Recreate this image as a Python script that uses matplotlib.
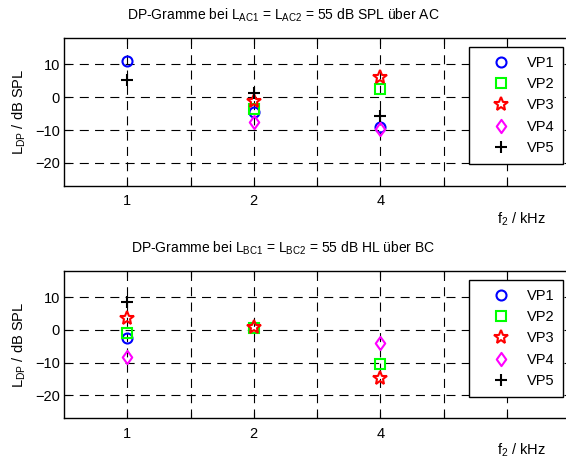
import numpy as np
import matplotlib
matplotlib.use('Agg')
import matplotlib.pyplot as plt
from matplotlib.path import Path

# ─── Data ────────────────────────────────────────────────────────────────────
freq_labels = ['1', '2', '4']          # f2 / kHz
series_names = ['VP1', 'VP2', 'VP3', 'VP4', 'VP5']

nan = np.nan
# AC stimulation, L_AC1 = L_AC2 = 55 dB SPL
ac_vp1 = [11.0, -4.4, -9.0]
ac_vp2 = [nan, -3.7, 2.4]
ac_vp3 = [nan, -1.3, 6.1]
ac_vp4 = [nan, -7.5, -9.7]
ac_vp5 = [5.3, 1.4, -5.7]

# BC stimulation, L_BC1 = L_BC2 = 55 dB HL
bc_vp1 = [-2.5, nan, nan]
bc_vp2 = [-0.8, 0.7, -10.4]
bc_vp3 = [3.6, 1.0, -14.8]
bc_vp4 = [-8.2, nan, -3.9]
bc_vp5 = [8.4, nan, nan]

# ─── Style ───────────────────────────────────────────────────────────────────
plt.rcParams['font.family'] = ['Liberation Sans', 'DejaVu Sans']
plt.rcParams['mathtext.fontset'] = 'custom'
plt.rcParams['mathtext.rm'] = 'Liberation Sans'
plt.rcParams['mathtext.it'] = 'Liberation Sans'
plt.rcParams['mathtext.default'] = 'regular'
plt.rcParams['lines.scale_dashes'] = False

FS = 10

# MATLAB-like diamond (a bit narrower than tall)
diamond = Path([(0, 1), (0.72, 0), (0, -1), (-0.72, 0), (0, 1)],
               [Path.MOVETO, Path.LINETO, Path.LINETO, Path.LINETO,
                Path.CLOSEPOLY])

markers = [
    dict(marker='o', color='#0000ff', ms=7.2),
    dict(marker='s', color='#00ff00', ms=7.2),
    dict(marker='*', color='#ff0000', ms=10),
    dict(marker=diamond, color='#ff00ff', ms=9.5),
    dict(marker='+', color='#000000', ms=8),
]


def draw_panel(ax, series, title_y, xlabel_y, title):
    x = np.arange(1, len(freq_labels) + 1)
    for name, vals, st in zip(series_names, series, markers):
        ax.plot(x, vals, linestyle='none', marker=st['marker'], ms=st['ms'],
                markeredgecolor=st['color'], markerfacecolor='none',
                markeredgewidth=1.5, label=name, zorder=3)

    ax.set_xlim(0.5, 4.5)
    ax.set_ylim(-27, 18)
    ax.set_xticks([1, 1.5, 2, 2.5, 3, 3.5, 4])
    ax.set_xticklabels([freq_labels[0], '', freq_labels[1], '',
                        freq_labels[2], '', ''])
    ax.set_yticks([-20, -10, 0, 10])
    ax.tick_params(direction='in', top=True, right=True, length=4,
                   width=0.8, labelsize=FS + 0.5)
    ax.tick_params(axis='x', pad=6)
    ax.tick_params(axis='y', pad=3)
    ax.grid(True, color='black', linestyle=(0, (6.5, 4.5)), linewidth=0.8)
    for sp in ax.spines.values():
        sp.set_linewidth(1.0)

    ax.set_ylabel(r'L$_{DP}$ / dB SPL', fontsize=FS + 0.5, labelpad=5)

    leg = ax.legend(loc='upper right', bbox_to_anchor=(0.987, 0.939),
                    fontsize=FS + 0.5, frameon=True, fancybox=False,
                    framealpha=1, edgecolor='black', borderaxespad=0,
                    labelspacing=0.5, handlelength=3.2, handletextpad=0.2,
                    borderpad=0.6, markerfirst=True)
    leg.get_frame().set_linewidth(1.0)
    leg.set_zorder(5)

    fig.text(0.5, title_y, title, ha='center', va='center', fontsize=FS)
    fig.text(521 / 566, xlabel_y, r'f$_2$ / kHz', ha='center', va='center',
             fontsize=FS + 0.5)


fig = plt.figure(figsize=(5.66, 4.65), dpi=100)
ax1 = fig.add_axes([64 / 566, 1 - 186 / 465, 506 / 566, 148 / 465])
ax2 = fig.add_axes([64 / 566, 1 - 418.3 / 465, 506 / 566, 147.3 / 465])

draw_panel(ax1, [ac_vp1, ac_vp2, ac_vp3, ac_vp4, ac_vp5],
           1 - 15 / 465, 1 - 219 / 465,
           r'DP-Gramme bei L$_{AC1}$ = L$_{AC2}$ = 55 dB SPL über AC')
draw_panel(ax2, [bc_vp1, bc_vp2, bc_vp3, bc_vp4, bc_vp5],
           1 - 248 / 465, 1 - 450 / 465,
           r'DP-Gramme bei L$_{BC1}$ = L$_{BC2}$ = 55 dB HL über BC')

fig.savefig('out.png', dpi=100)
